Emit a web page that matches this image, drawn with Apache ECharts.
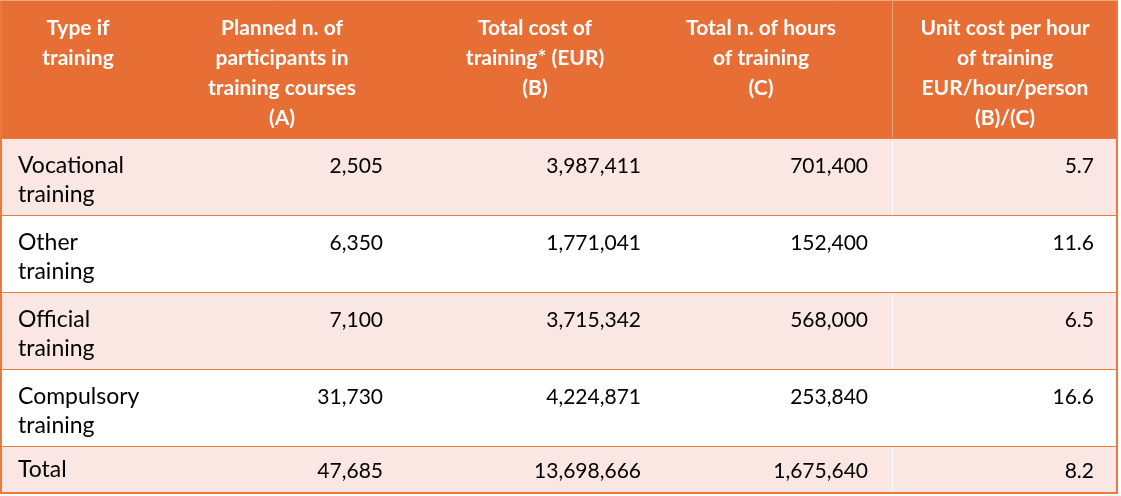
<!DOCTYPE html>
<html>
<head>
<meta charset="utf-8">
<script src="https://cdn.jsdelivr.net/npm/echarts@6/dist/echarts.min.js"></script>
<style>
  html, body { margin: 0; padding: 0; background: #ffffff; }
  #chart { width: 1121px; height: 496px; }
</style>
</head>
<body>
<div id="chart"></div>
<script>
// ---- data ----
const headers = [
  "Type if\ntraining",
  "Planned n. of\nparticipants in\ntraining courses\n(A)",
  "Total cost of\ntraining* (EUR)\n(B)",
  "Total n. of hours\nof training\n(C)",
  "Unit cost per hour\nof training\nEUR/hour/person\n(B)/(C)"
];
const categories = ["Vocational training", "Other training", "Official training", "Compulsory training", "Total"];
const participants = [2505, 6350, 7100, 31730, 47685];
const totalCost = [3987411, 1771041, 3715342, 4224871, 13698666];
const hours = [701400, 152400, 568000, 253840, 1675640];
const unitCost = [5.7, 11.6, 6.5, 16.6, 8.2];

// ---- layout (axis units == pixels) ----
const colEdges = [0, 156, 407, 665, 892, 1118];
const headerX = [78, 282, 535, 761, 1005];
const rowEdges = [0, 139, 216, 293, 370, 447, 493];
const ORANGE = '#E76E34';
const LINE = '#EC7A3C';
const PINK = '#FAE6E2';
const FONT = 'Lato, "Open Sans", sans-serif';

const fmt = v => v.toLocaleString('en-US');
const rows = [0, 1, 2, 3, 4, 5];

function renderRow(params, api) {
  const r = api.value(0);
  const y0 = api.coord([0, rowEdges[r]])[1];
  const y1 = api.coord([0, rowEdges[r + 1]])[1];
  const xL = api.coord([colEdges[0], 0])[0];
  const xR = api.coord([colEdges[5], 0])[0];
  const children = [];
  let bg;
  if (r === 0) bg = ORANGE; else bg = (r % 2 === 1) ? PINK : '#ffffff';
  children.push({ type: 'rect', shape: { x: xL, y: y0, width: xR - xL, height: y1 - y0 }, style: { fill: bg }, silent: true });
  // faint column separator before last column
  const xs = api.coord([colEdges[4], 0])[0];
  children.push({ type: 'line', shape: { x1: xs + 0.5, y1: y0 + 2, x2: xs + 0.5, y2: y1 - 1 },
    style: { stroke: r === 0 ? 'rgba(255,255,255,0.35)' : 'rgba(255,255,255,0.9)', lineWidth: 1 }, silent: true });
  if (r === 0) {
    for (let c = 0; c < 5; c++) {
      const x = api.coord([headerX[c], 0])[0];
      children.push({ type: 'text', silent: true, style: {
        text: headers[c], x: x, y: y0 + 13, align: 'center', verticalAlign: 'top',
        fill: '#ffffff', fontFamily: FONT, fontWeight: 'bold', fontSize: 21, lineHeight: 30 } });
    }
  } else {
    const i = r - 1;
    const isTotal = i === categories.length - 1;
    const ty = isTotal ? (y0 + y1) / 2 : y0 + 12;
    const va = isTotal ? 'middle' : 'top';
    const vals = [fmt(participants[i]), fmt(totalCost[i]), fmt(hours[i]), unitCost[i].toFixed(1)];
    children.push({ type: 'text', silent: true, style: {
      text: categories[i], x: api.coord([colEdges[0] + 18, 0])[0], y: ty, align: 'left', verticalAlign: va,
      width: 130, overflow: 'break',
      fill: '#000000', fontFamily: FONT, fontSize: 23, lineHeight: 29 } });
    for (let c = 0; c < 4; c++) {
      const x = api.coord([colEdges[c + 2] - 24, 0])[0];
      children.push({ type: 'text', silent: true, style: {
        text: vals[c], x: x, y: ty + 1, align: 'right', verticalAlign: va,
        fill: '#000000', fontFamily: FONT, fontSize: 21, lineHeight: 29 } });
    }
  }
  // bottom border
  children.push({ type: 'line', shape: { x1: xL, y1: y1, x2: xR, y2: y1 }, style: { stroke: LINE, lineWidth: 2 }, silent: true });
  // side borders
  children.push({ type: 'line', shape: { x1: xL + 1, y1: y0, x2: xL + 1, y2: y1 }, style: { stroke: LINE, lineWidth: 2 }, silent: true });
  children.push({ type: 'line', shape: { x1: xR - 1, y1: y0, x2: xR - 1, y2: y1 }, style: { stroke: LINE, lineWidth: 2 }, silent: true });
  if (r === 0) {
    children.push({ type: 'line', shape: { x1: xL, y1: 0.5, x2: xR, y2: 0.5 }, style: { stroke: '#F2A57F', lineWidth: 1 }, silent: true });
  }
  return { type: 'group', children: children };
}

const chart = echarts.init(document.getElementById('chart'), null, { renderer: 'canvas' });
chart.setOption({
  animation: false,
  backgroundColor: '#ffffff',
  grid: { left: 0, right: 0, top: 0, bottom: 0 },
  xAxis: { type: 'value', min: 0, max: 1121, show: false },
  yAxis: { type: 'value', min: 0, max: 496, inverse: true, show: false },
  series: [{
    type: 'custom',
    renderItem: renderRow,
    data: rows.map(r => [r]),
    encode: { x: [], y: [] },
    clip: false
  }]
});
</script>
</body>
</html>
